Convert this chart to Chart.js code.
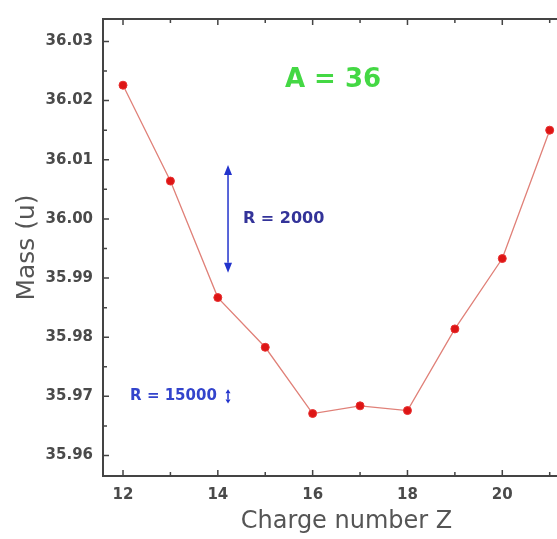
<!DOCTYPE html>
<html>
<head>
<meta charset="utf-8">
<script src="https://cdn.jsdelivr.net/npm/chart.js@4/dist/chart.umd.min.js"></script>
<style>
    html, body { margin: 0; padding: 0; background: #fff; overflow: hidden; }
</style>
</head>
<body>
<canvas id="massChart" width="600" height="539"></canvas>
<script>
// Données : masse des isobares A = 36 selon le nombre de charge Z
const chargeZ = [12, 13, 14, 15, 16, 17, 18, 19, 20, 21];
const massU = [36.0226, 36.0064, 35.9867, 35.9783, 35.9671, 35.9684, 35.9676, 35.9814, 35.9933, 36.0150];

// Graduations
const xMajorTicks = [12, 14, 16, 18, 20];
const xMinorTicks = [13, 15, 17, 19, 21];
const yMajorTicks = [35.96, 35.97, 35.98, 35.99, 36.00, 36.01, 36.02, 36.03];
const yMinorTicks = [35.965, 35.975, 35.985, 35.995, 36.005, 36.015, 36.025];

// Annotations (en coordonnées du graphique)
const titleNote = { text: "A = 36", z: 16.43, m: 36.0234 };
const resolutionLabels = ["R = 2000", "R = 15000"];
const resolutionArrowZ = [14.215, 14.215];
const resolutionArrowTop = [36.0091, 35.9712];
const resolutionArrowBottom = [35.9909, 35.9688];
const resolutionLabelZ = [14.53, 12.15];
const resolutionLabelM = [36.000, 35.970];

document.addEventListener("DOMContentLoaded", function () {

    // Graduations vers l'intérieur, cadre du haut et annotations
    const decorPlugin = {
        id: "decor",
        afterDraw(chart) {
            const ctx = chart.ctx;
            const a = chart.chartArea;
            const x = chart.scales.x;
            const y = chart.scales.y;

            ctx.save();
            ctx.strokeStyle = "#444";
            ctx.lineWidth = 2;
            ctx.beginPath();
            ctx.moveTo(a.left, a.top);
            ctx.lineTo(chart.width, a.top);
            ctx.stroke();

            ctx.lineWidth = 1.5;
            ctx.beginPath();
            const tick = function (px, py, dx, dy) {
                ctx.moveTo(px, py);
                ctx.lineTo(px + dx, py + dy);
            };
            xMajorTicks.forEach(function (v) {
                const p = x.getPixelForValue(v);
                tick(p, a.bottom, 0, -6);
                tick(p, a.top, 0, 6);
            });
            xMinorTicks.forEach(function (v) {
                const p = x.getPixelForValue(v);
                tick(p, a.bottom, 0, -4);
                tick(p, a.top, 0, 4);
            });
            yMajorTicks.forEach(function (v) {
                tick(a.left, y.getPixelForValue(v), 6, 0);
            });
            yMinorTicks.forEach(function (v) {
                tick(a.left, y.getPixelForValue(v), 4, 0);
            });
            ctx.stroke();

            // A = 36
            ctx.fillStyle = "#44d844";
            ctx.font = "bold 26px 'DejaVu Sans'";
            ctx.textAlign = "center";
            ctx.textBaseline = "middle";
            ctx.fillText(titleNote.text, x.getPixelForValue(titleNote.z), y.getPixelForValue(titleNote.m));

            // flèches de résolution
            const arrowColors = ["#2233cc", "#2233cc"];
            const textColors = ["#333399", "#3344cc"];
            const textSizes = [16, 15];
            for (let i = 0; i < resolutionLabels.length; i++) {
                const ax = x.getPixelForValue(resolutionArrowZ[i]);
                const top = y.getPixelForValue(resolutionArrowTop[i]);
                const bot = y.getPixelForValue(resolutionArrowBottom[i]);
                const hw = i === 0 ? 4 : 2.5;
                const hh = i === 0 ? 10 : 4;
                ctx.strokeStyle = arrowColors[i];
                ctx.fillStyle = arrowColors[i];
                ctx.lineWidth = 1.5;
                ctx.beginPath();
                ctx.moveTo(ax, top + hh);
                ctx.lineTo(ax, bot - hh);
                ctx.stroke();
                ctx.beginPath();
                ctx.moveTo(ax, top);
                ctx.lineTo(ax - hw, top + hh);
                ctx.lineTo(ax + hw, top + hh);
                ctx.closePath();
                ctx.moveTo(ax, bot);
                ctx.lineTo(ax - hw, bot - hh);
                ctx.lineTo(ax + hw, bot - hh);
                ctx.closePath();
                ctx.fill();

                ctx.fillStyle = textColors[i];
                ctx.font = "bold " + textSizes[i] + "px 'DejaVu Sans'";
                ctx.textAlign = "left";
                ctx.fillText(resolutionLabels[i], x.getPixelForValue(resolutionLabelZ[i]), y.getPixelForValue(resolutionLabelM[i]));
            }
            ctx.restore();
        }
    };

    const ctx = document.getElementById("massChart").getContext("2d");

    const massChart = new Chart(ctx, {
        type: "line",
        data: {
            datasets: [
                {
                    label: "Masse",
                    data: chargeZ.map(function (z, i) { return { x: z, y: massU[i] }; }),
                    borderColor: "#e08078",
                    borderWidth: 1.3,
                    pointRadius: 4,
                    pointBackgroundColor: "#dd1515",
                    pointBorderColor: "#e83030",
                    pointBorderWidth: 1,
                    tension: 0,
                    fill: false
                }
            ]
        },
        options: {
            responsive: false,
            animation: false,
            layout: { padding: { top: 7, right: 10, left: 0, bottom: 0 } },
            plugins: {
                legend: { display: false },
                tooltip: { enabled: false }
            },
            scales: {
                x: {
                    type: "linear",
                    min: 11.578,
                    max: 21.85,
                    grid: { display: false, drawTicks: false },
                    border: { display: true, color: "#444", width: 2 },
                    afterBuildTicks: function (s) {
                        s.ticks = xMajorTicks.map(function (v) { return { value: v }; });
                    },
                    afterFit: function (s) { s.height = 63; },
                    ticks: {
                        padding: 10,
                        color: "#4a4a4a",
                        font: { family: "'DejaVu Sans'", size: 15, weight: "bold" },
                        callback: function (v) { return String(v); }
                    },
                    title: {
                        display: true,
                        text: "Charge number Z",
                        color: "#555",
                        font: { family: "'DejaVu Sans'", size: 24 },
                        padding: { top: 0, bottom: 3 }
                    }
                },
                y: {
                    type: "linear",
                    min: 35.95654,
                    max: 36.03379,
                    grid: { display: false, drawTicks: false },
                    border: { display: true, color: "#444", width: 2 },
                    afterBuildTicks: function (s) {
                        s.ticks = yMajorTicks.map(function (v) { return { value: v }; });
                    },
                    afterFit: function (s) { s.width = 103; },
                    ticks: {
                        padding: 10,
                        color: "#4a4a4a",
                        font: { family: "'DejaVu Sans'", size: 15, weight: "bold" },
                        callback: function (v) { return Number(v).toFixed(2); }
                    },
                    title: {
                        display: true,
                        text: "Mass (u)",
                        color: "#555",
                        font: { family: "'DejaVu Sans'", size: 25 },
                        padding: { top: 12, bottom: 0 }
                    }
                }
            }
        },
        plugins: [decorPlugin]
    });
});
</script>
</body>
</html>
